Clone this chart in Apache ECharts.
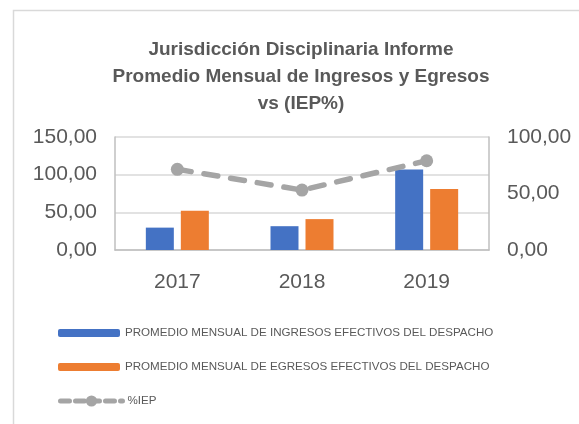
<!DOCTYPE html>
<html>
<head>
<meta charset="utf-8">
<script src="https://cdn.jsdelivr.net/npm/echarts@6/dist/echarts.min.js"></script>
<style>
  html, body { margin: 0; padding: 0; background: #fff; }
  #grafico { width: 579px; height: 424px; }
</style>
</head>
<body>
<div id="grafico"></div>
<script>
var anios = ['2017', '2018', '2019'];
var ingresos = [29.7, 31.6, 106.7];
var egresos = [52, 41, 81];
var iep = [71.4, 53, 79];
var ticks_izq = [0, 50, 100, 150];
var ticks_der = [0, 50, 100];

var nombre_ing = 'PROMEDIO MENSUAL DE INGRESOS EFECTIVOS DEL DESPACHO';
var nombre_egr = 'PROMEDIO MENSUAL DE EGRESOS EFECTIVOS DEL DESPACHO';
var nombre_iep = '%IEP';

function formato(v) {
    return v.toFixed(2).replace('.', ',');
}

var myChart01 = echarts.init(document.getElementById('grafico'));

var option = {
    animation: false,
    textStyle: { fontFamily: 'Liberation Sans, Arial, sans-serif' },
    title: {
        text: 'Jurisdicción Disciplinaria Informe\nPromedio Mensual de Ingresos y Egresos\nvs (IEP%)',
        left: 296,
        textAlign: 'center',
        top: 31,
        textStyle: {
            fontSize: 19,
            fontWeight: 'bold',
            color: '#595959',
            lineHeight: 27
        }
    },
    graphic: [{
        type: 'rect',
        shape: { x: 13.5, y: 10.5, width: 600, height: 500 },
        style: { fill: 'none', stroke: '#D9D9D9', lineWidth: 1.5 },
        silent: true
    }],
    legend: [{
        orient: 'vertical',
        left: 53,
        top: 322,
        itemWidth: 62,
        itemHeight: 8,
        itemGap: 22,
        textStyle: { fontSize: 11.6, color: '#595959' },
        data: [nombre_ing, nombre_egr]
    }, {
        orient: 'vertical',
        left: 53,
        top: 390,
        itemWidth: 62,
        itemHeight: 14,
        textStyle: { fontSize: 11.6, color: '#595959' },
        data: [{
            name: nombre_iep,
            lineStyle: { width: 5, type: [9, 6], cap: 'round' }
        }]
    }],
    grid: { left: 115, right: 90, top: 137, bottom: 174 },
    xAxis: [{
        type: 'category',
        data: anios,
        axisLine: { lineStyle: { color: '#BFBFBF', width: 1.5 } },
        axisTick: { show: false },
        axisLabel: { fontSize: 21, color: '#595959', margin: 22 }
    }],
    yAxis: [{
        type: 'value',
        min: ticks_izq[0],
        max: ticks_izq[ticks_izq.length - 1],
        interval: 50,
        axisLine: { show: true, lineStyle: { color: '#BFBFBF', width: 1.5 } },
        axisTick: { show: false },
        splitLine: { lineStyle: { color: '#D9D9D9', width: 1.5 } },
        axisLabel: { fontSize: 21, color: '#595959', margin: 18, formatter: formato }
    }, {
        type: 'value',
        min: ticks_der[0],
        max: ticks_der[ticks_der.length - 1],
        interval: 50,
        axisLine: { show: true, lineStyle: { color: '#BFBFBF', width: 1.5 } },
        axisTick: { show: false },
        splitLine: { show: false },
        axisLabel: { fontSize: 21, color: '#595959', margin: 18, formatter: formato }
    }],
    series: [{
        name: nombre_ing,
        type: 'bar',
        data: ingresos,
        barWidth: 28,
        barGap: '25%',
        itemStyle: { color: '#4472C4' }
    }, {
        name: nombre_egr,
        type: 'bar',
        data: egresos,
        barWidth: 28,
        itemStyle: { color: '#ED7D31' }
    }, {
        name: nombre_iep,
        type: 'line',
        yAxisIndex: 1,
        data: iep,
        symbol: 'circle',
        symbolSize: 13,
        itemStyle: { color: '#A5A5A5' },
        lineStyle: { color: '#A5A5A5', width: 5.5, type: [14, 13], cap: 'round' }
    }]
};

myChart01.setOption(option, true);
</script>
</body>
</html>
